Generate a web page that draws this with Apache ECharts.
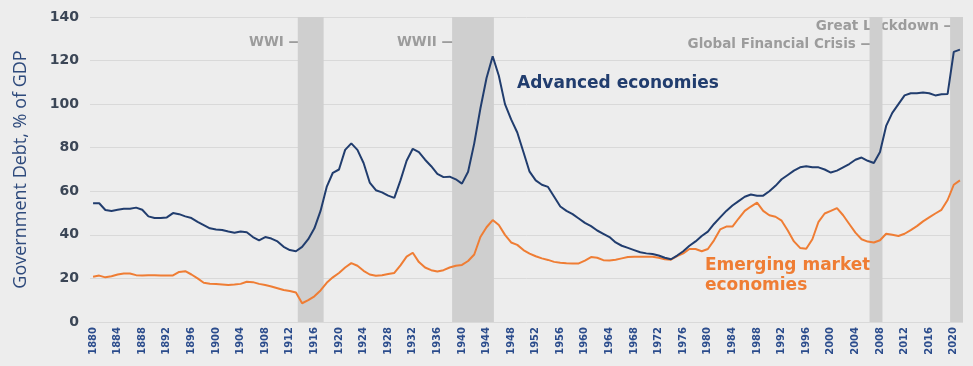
<!DOCTYPE html>
<html>
<head>
<meta charset="utf-8">
<title>Government debt, % of GDP</title>
<script src="https://cdn.jsdelivr.net/npm/echarts@6/dist/echarts.min.js"></script>
<style>
  html, body { margin: 0; padding: 0; background: #ededed; }
  #gov_debt { width: 973px; height: 366px; }
</style>
</head>
<body>
<div id="gov_debt"></div>
<script>
// Data
// ------------------------------

var firstYear = 1880;
var advancedEconomies = [
  54.5, 54.5, 51.4, 51, 51.5, 52, 52, 52.5, 51.5, 48.5,
  47.7, 47.7, 48, 50, 49.5, 48.5, 47.7, 46, 44.5, 43,
  42.5, 42.2, 41.5, 41, 41.5, 41.2, 39, 37.5, 39, 38.3,
  37, 34.5, 33, 32.5, 34.5, 38, 43, 51, 62, 68.5,
  70, 79, 82, 79, 73, 64, 60.5, 59.5, 58, 57,
  65, 74, 79.5, 78, 74.5, 71.5, 68, 66.5, 66.7, 65.5,
  63.5, 69, 82, 98, 112, 122, 113, 100, 93, 87,
  78, 69, 65, 63, 62, 57.5, 53, 51, 49.5, 47.5,
  45.5, 44, 42, 40.5, 39, 36.5, 35, 34, 33, 32,
  31.5, 31.2, 30.5, 29.5, 28.8, 30.5, 32.5, 35, 37, 39.5,
  41.5, 45, 48, 51, 53.5, 55.5, 57.5, 58.5, 58, 58,
  60, 62.5, 65.5, 67.5, 69.5, 71, 71.5, 71, 71, 70,
  68.6, 69.5, 71, 72.5, 74.5, 75.5, 74, 73, 78, 90,
  96, 100, 104, 105, 105, 105.3, 105, 104, 104.5, 104.7,
  124, 125
];
var emergingEconomies = [
  20.8, 21.3, 20.5, 21, 21.8, 22.3, 22.3, 21.5, 21.4, 21.5,
  21.5, 21.4, 21.4, 21.4, 23, 23.3, 21.8, 20, 18, 17.6,
  17.4, 17.2, 17, 17.2, 17.5, 18.5, 18.3, 17.5, 17, 16.3,
  15.5, 14.7, 14.2, 13.5, 8.6, 10, 11.8, 14.5, 18, 20.5,
  22.5, 25, 27, 25.8, 23.5, 21.8, 21.2, 21.5, 22, 22.5,
  26, 30, 31.8, 27.5, 25, 23.8, 23.2, 23.8, 25, 25.8,
  26.2, 28, 31, 39, 43.5, 46.8, 44.5, 40, 36.5, 35.4,
  33, 31.4, 30.2, 29.2, 28.5, 27.6, 27.2, 27, 26.9, 26.9,
  28.2, 29.8, 29.5, 28.4, 28.2, 28.6, 29.2, 29.8, 30, 30,
  30, 30, 29.5, 28.8, 28.6, 30.2, 31.5, 33.5, 33.5, 32.5,
  33.5, 37.5, 42.5, 43.8, 43.8, 47.5, 51, 53, 54.8, 51,
  49, 48.3, 46.5, 42, 37, 34, 33.6, 38, 46, 49.8,
  51, 52.3, 49, 45, 41, 38, 36.9, 36.5, 37.5, 40.5,
  40, 39.5, 40.5, 42.2, 44, 46.2, 48, 49.8, 51.5, 56,
  63, 65
];
var yearTicks = [];
for (var t = 1880; t <= 2020; t += 4) yearTicks.push(t);

// shaded crisis periods [from, to, label]
var crisisBands = [
  [1913.3, 1917.5, "WWI \u2014"],
  [1938.4, 1945.2, "WWII \u2014"],
  [2006.3, 2008.4, "Global Financial Crisis \u2014"],
  [2019.4, 2021.5, "Great Lockdown \u2014"]
];

// Setup module
// ------------------------------

var govDebtChart = (function () {
  var pairs = function (values) {
    return values.map(function (v, i) { return [firstYear + i, v]; });
  };

  var govDebtExample = function () {
    if (typeof echarts == "undefined") {
      console.warn("Warning - echarts.min.js is not loaded.");
      return;
    }

    var gov_debt_element = document.getElementById("gov_debt");
    if (!gov_debt_element) return;

    var gov_debt = echarts.init(gov_debt_element);

    var bandData = crisisBands.map(function (b) {
      return [{ xAxis: b[0] }, { xAxis: b[1] }];
    });

    var noteFont = "bold 13.5px DejaVu Sans";

    gov_debt.setOption({
      backgroundColor: "#ededed",
      animation: false,
      textStyle: { fontFamily: "DejaVu Sans, sans-serif" },

      grid: { left: 90, right: 10, top: 17, bottom: 44 },

      xAxis: {
        type: "value",
        min: 1879.5,
        max: 2021.5,
        axisLine: { show: false },
        axisTick: { show: false },
        splitLine: { show: false },
        axisLabel: {
          customValues: yearTicks,
          rotate: 90,
          margin: 5,
          fontSize: 10,
          fontWeight: "bold",
          color: "#2b4c8c",
          formatter: function (v) { return String(v); }
        }
      },

      yAxis: {
        type: "value",
        min: 0,
        max: 140,
        interval: 20,
        name: "Government Debt, % of GDP",
        nameLocation: "middle",
        nameGap: 60,
        nameTextStyle: { fontSize: 18, color: "#2e4a7c", fontFamily: "Open Sans, sans-serif" },
        axisLine: { show: false },
        axisTick: { show: false },
        axisLabel: { fontSize: 14, fontWeight: "bold", color: "#3b4656", margin: 11 },
        splitLine: { lineStyle: { color: "#d9d9d9", width: 1 } }
      },

      series: [
        {
          name: "Advanced economies",
          type: "line",
          data: pairs(advancedEconomies),
          showSymbol: false,
          lineStyle: { color: "#213d6e", width: 2 },
          markArea: {
            silent: true,
            itemStyle: { color: "#cfcfcf" },
            data: bandData
          },
          z: 3
        },
        {
          name: "Emerging market economies",
          type: "line",
          data: pairs(emergingEconomies),
          showSymbol: false,
          lineStyle: { color: "#ef7d34", width: 2 },
          z: 2
        }
      ],

      // annotations
      graphic: [
        { type: "text", right: 973 - 302, top: 35, style: { text: crisisBands[0][2], fill: "#9c9c9c", font: noteFont } },
        { type: "text", right: 973 - 455, top: 35, style: { text: crisisBands[1][2], fill: "#9c9c9c", font: noteFont } },
        { type: "text", right: 973 - 874, top: 37, style: { text: crisisBands[2][2], fill: "#9c9c9c", font: noteFont } },
        { type: "text", right: 973 - 957, top: 19, style: { text: crisisBands[3][2], fill: "#9c9c9c", font: noteFont } },
        { type: "text", left: 517, top: 75, style: { text: "Advanced economies", fill: "#213d6e", font: "bold 17px DejaVu Sans" } },
        { type: "text", left: 705, top: 256, style: { text: "Emerging market\neconomies", fill: "#ef7d34", font: "bold 17px DejaVu Sans", lineHeight: 20 } }
      ]
    });

    var resizeCharts;
    window.addEventListener("resize", function () {
      clearTimeout(resizeCharts);
      resizeCharts = setTimeout(function () { gov_debt.resize(); }, 200);
    });
  };

  return {
    init: function () { govDebtExample(); }
  };
})();

document.addEventListener("DOMContentLoaded", function () {
  govDebtChart.init();
});
</script>
</body>
</html>
